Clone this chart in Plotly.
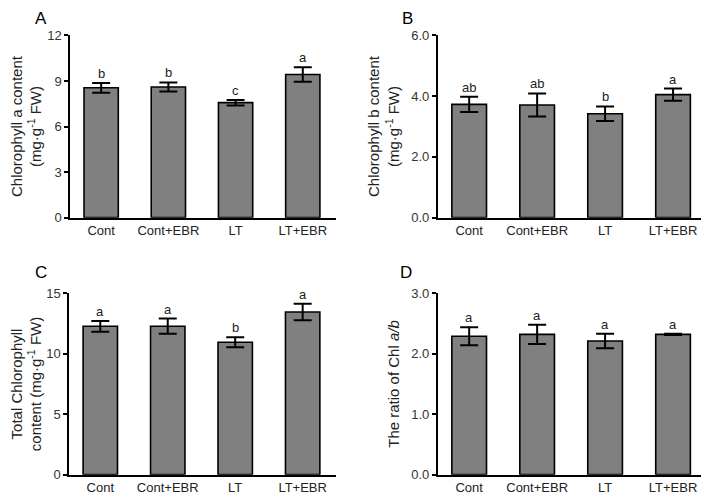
import plotly.graph_objects as go
from plotly.subplots import make_subplots

# ─── DATA ───────────────────────────────────────────────────────
groups = ["Cont", "Cont+EBR", "LT", "LT+EBR"]

chl_a = [8.55, 8.60, 7.57, 9.42]
chl_a_err = [0.32, 0.30, 0.18, 0.48]
chl_a_sig = ["b", "b", "c", "a"]

chl_b = [3.73, 3.71, 3.42, 4.05]
chl_b_err = [0.25, 0.38, 0.24, 0.20]
chl_b_sig = ["ab", "ab", "b", "a"]

chl_total = [12.27, 12.28, 10.95, 13.46]
chl_total_err = [0.44, 0.63, 0.41, 0.68]
chl_total_sig = ["a", "a", "b", "a"]

chl_ratio = [2.29, 2.32, 2.21, 2.32]
chl_ratio_err = [0.15, 0.16, 0.12, 0.01]
chl_ratio_sig = ["a", "a", "a", "a"]

FONT = "Liberation Sans, Arial, sans-serif"

panels = [
    # (letter, values, errs, sig, y title, y range, dtick, tickformat)
    ("A", chl_a, chl_a_err, chl_a_sig,
     "Chlorophyll a content<br>(mg·g<sup>-1</sup> FW)", [0, 12], 3, "d"),
    ("B", chl_b, chl_b_err, chl_b_sig,
     "Chlorophyll b content<br>(mg·g<sup>-1</sup> FW)", [0, 6], 2, ".1f"),
    ("C", chl_total, chl_total_err, chl_total_sig,
     "Total Chlorophyll<br>content (mg·g<sup>-1</sup> FW)", [0, 15], 5, "d"),
    ("D", chl_ratio, chl_ratio_err, chl_ratio_sig,
     "The ratio of Chl <i>a/b</i>", [0, 3], 1, ".1f"),
]

# page body keeps its 8px margin, so the figure is 701x496 and sits at (8, 8)
W, H, OFF = 701, 496, 8

def xd(a, b):
    return [(a - OFF) / W, (b - OFF) / W]

def yd(top, bottom):
    return [1 - (bottom - OFF) / H, 1 - (top - OFF) / H]

x_doms = [xd(61, 331), xd(434, 707), xd(60, 331), xd(434, 707)]
y_doms = [yd(29, 217), yd(29, 217), yd(295, 482), yd(295, 482)]
letter_pos = [(31, 12), (403, 12), (31, 274), (402, 274)]

fig = make_subplots(rows=2, cols=2)
annots = []
for i, (letter, vals, errs, sig, ytitle, yrange, dtick, tfmt) in enumerate(panels):
    r, c = i // 2 + 1, i % 2 + 1
    fig.add_trace(go.Bar(
        x=list(range(4)), y=vals, width=0.51,
        marker=dict(color="#808080", line=dict(color="black", width=1.6)),
        error_y=dict(type="data", array=errs, color="black", thickness=2, width=9),
        showlegend=False,
    ), row=r, col=c)
    xa = "x" if i == 0 else f"x{i+1}"
    ya = "y" if i == 0 else f"y{i+1}"
    for j, s in enumerate(sig):
        annots.append(dict(
            x=j, y=vals[j] + errs[j], xref=xa, yref=ya, text=s,
            showarrow=False, yanchor="bottom", yshift=0,
            font=dict(size=13, family=FONT, color="#222"),
        ))
    lx, ly = letter_pos[i]
    annots.append(dict(
        x=(lx - OFF) / W, y=1 - (ly - OFF) / H, xref="paper", yref="paper", text=letter,
        showarrow=False, xanchor="center", yanchor="middle",
        font=dict(size=17, family=FONT, color="black"),
    ))
    fig.update_xaxes(
        domain=x_doms[i], range=[-0.46, 3.5],
        tickvals=list(range(4)), ticktext=groups,
        showline=True, linecolor="black", linewidth=2,
        ticks="", showgrid=False, zeroline=False,
        tickfont=dict(size=13, family=FONT, color="#222"),
        row=r, col=c)
    fig.update_yaxes(
        domain=y_doms[i], range=yrange, dtick=dtick, tickformat=tfmt,
        showline=True, linecolor="black", linewidth=2,
        ticks="outside", ticklen=4, tickwidth=2, tickcolor="black",
        showgrid=False, zeroline=False,
        tickfont=dict(size=13, family=FONT, color="#333"),
        title=dict(text=ytitle, standoff=8,
                   font=dict(size=15, family=FONT, color="#222")),
        row=r, col=c)

fig.update_layout(
    width=W, height=H,
    margin=dict(l=0, r=0, t=0, b=0),
    plot_bgcolor="white", paper_bgcolor="white",
    annotations=annots, bargap=0.49,
)
fig.write_html("out.html")
